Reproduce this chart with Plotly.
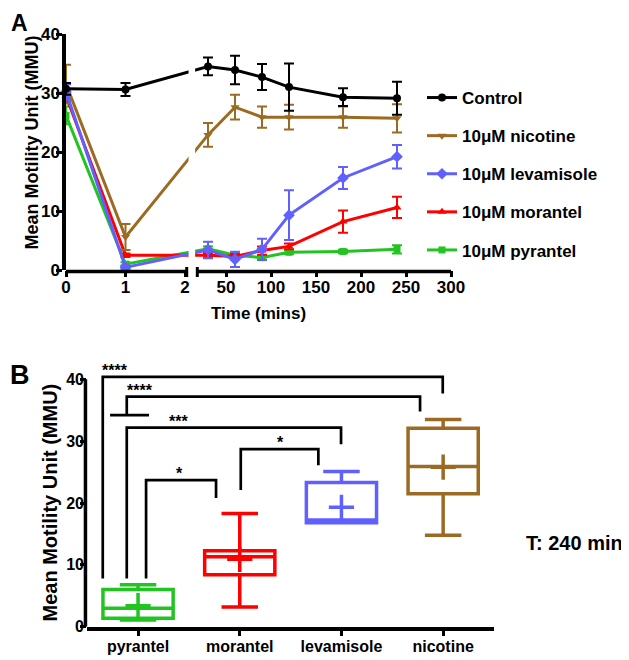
import plotly.graph_objects as go

W, H = 629, 660
PAGE_OFF = 8  # default page body margin
FW, FH = W - PAGE_OFF, H - PAGE_OFF
FONT = "Liberation Sans"

# ---------------- Panel A data ----------------
times = [0, 1, 30, 60, 90, 120, 180, 240]
control = [30.7, 30.6, 34.5, 33.9, 32.7, 31.0, 29.3, 29.1]
control_err = [1.0, 1.1, 1.5, 2.4, 2.2, 4.0, 1.5, 2.8]
nicotine = [31.5, 5.6, 22.9, 27.6, 25.9, 25.9, 25.9, 25.7]
nicotine_err = [3.3, 2.2, 2.0, 2.1, 1.8, 2.1, 1.8, 2.4]
levamisole = [30.2, 0.45, 3.4, 1.8, 3.5, 9.3, 15.6, 19.2]
levamisole_err = [1.3, 0.3, 1.4, 1.3, 1.8, 4.2, 1.85, 2.0]
morantel = [29.5, 2.5, 2.5, 2.3, 3.3, 4.0, 8.2, 10.6]
morantel_err = [1.0, 0.3, 0.4, 0.4, 0.7, 0.5, 1.9, 1.8]
pyrantel = [26.2, 1.0, 3.6, 2.5, 2.1, 3.0, 3.15, 3.5]
pyrantel_err = [1.5, 0.3, 0.4, 0.3, 0.3, 0.3, 0.3, 0.7]

series_names = ["Control", "10\u03bcM nicotine", "10\u03bcM levamisole",
                "10\u03bcM morantel", "10\u03bcM pyrantel"]
x_ticks_seg1 = [0, 1, 2]
x_ticks_seg2 = [50, 100, 150, 200, 250, 300]
y_ticks = [0, 10, 20, 30, 40]

# ---------------- Panel B data ----------------
drugs = ["pyrantel", "morantel", "levamisole", "nicotine"]
q1 = [1.35, 8.4, 16.8, 21.5]
median = [3.0, 11.3, 17.25, 25.9]
q3 = [6.0, 12.3, 23.3, 32.1]
lower = [1.1, 3.2, 16.8, 14.8]
upper = [6.8, 18.3, 25.1, 33.5]
means = [3.4, 10.9, 19.3, 25.8]

# significance brackets: (x_left, y_left_bottom, y_top, x_right, y_right_bottom, label, label_x)
brackets = [
    (-0.347, 7.8, 40.4, 2.996, 37.7, "****", -0.226),
    (-0.111, 34.2, 37.2, 2.773, 34.8, "****", 0.02),
    (-0.111, 7.8, 32.2, 1.996, 29.5, "***", 0.40),
    (0.079, 7.8, 23.7, 0.767, 20.8, "*", 0.41),
    (1.010, 22.1, 28.7, 1.773, 26.1, "*", 1.40),
]
extra_tick = (-0.275, 0.108, 34.2)

# ---------------- styling ----------------
C_BLACK = "#000000"
C_BROWN = "#9B6B24"
C_BLUE = "#6060FF"
C_RED = "#FF0000"
C_GREEN = "#22C422"


def px_x(px):
    return (px - PAGE_OFF) / FW


def px_y(py):
    return 1 - (py - PAGE_OFF) / FH


# broken x axis: segment 1 (0-2) and segment 2 (minutes)
SEG1_PX = 59.5
SEG2_OFFSET = 1.933
SEG2_SCALE = 0.9 / SEG1_PX


def tx(t):
    return t if t <= 2 else SEG2_OFFSET + t * SEG2_SCALE


X_END = tx(300)

A_LEFT, A_RIGHT, A_TOP, A_BOT = 66, 451, 34, 270
B_LEFT, B_RIGHT, B_TOP, B_BOT = 87.2, 494, 354.6, 626.7

fig = go.Figure()

trace_specs = [
    (pyrantel, pyrantel_err, C_GREEN, "square", 7, 4),
    (morantel, morantel_err, C_RED, "triangle-up", 8, 3),
    (nicotine, nicotine_err, C_BROWN, "triangle-down", 8, 1),
    (levamisole, levamisole_err, C_BLUE, "diamond", 9, 2),
    (control, control_err, C_BLACK, "circle", 8, 0),
]
for vals, errs, col, sym, size, rank in trace_specs:
    fig.add_trace(go.Scatter(
        x=[tx(t) for t in times], y=vals,
        mode="lines+markers",
        name=series_names[rank],
        legendgroup=series_names[rank],
        legendrank=rank + 1,
        line=dict(color=col, width=3),
        marker=dict(symbol=sym, size=size, color=col),
        error_y=dict(type="data", array=errs, color=col, thickness=2, width=5),
        xaxis="x", yaxis="y",
        cliponaxis=False,
    ))

# Panel B boxes
box_colors = [C_GREEN, C_RED, C_BLUE, C_BROWN]
for i, d in enumerate(drugs):
    fig.add_trace(go.Box(
        x=[d], q1=[q1[i]], median=[median[i]], q3=[q3[i]],
        lowerfence=[lower[i]], upperfence=[upper[i]],
        boxpoints=False, line=dict(color=box_colors[i], width=3.5),
        fillcolor="rgba(0,0,0,0)", whiskerwidth=0.52, width=0.69,
        xaxis="x2", yaxis="y2", showlegend=False, hoverinfo="skip",
    ))
fig.add_trace(go.Scatter(
    x=drugs, y=means, mode="markers",
    marker=dict(symbol="cross-thin", size=18,
                line=dict(width=3.5, color=box_colors)),
    xaxis="x2", yaxis="y2", showlegend=False, hoverinfo="skip",
))

shapes = []
# white break band in panel A
shapes.append(dict(type="rect", xref="x", yref="paper", x0=2.06, x1=2.17,
                   y0=px_y(A_BOT - 1), y1=px_y(A_TOP), fillcolor="white",
                   line=dict(width=0), layer="above"))
# broken x axis line segments
ax_y = px_y(A_BOT + 1.6)
shapes.append(dict(type="line", xref="x", yref="paper", x0=0, x1=2.029,
                   y0=ax_y, y1=ax_y, line=dict(color="black", width=3.5)))
shapes.append(dict(type="line", xref="x", yref="paper", x0=2.207, x1=X_END,
                   y0=ax_y, y1=ax_y, line=dict(color="black", width=3.5)))
for xb in (2.029, 2.207):
    shapes.append(dict(type="line", xref="x", yref="paper", x0=xb, x1=xb,
                       y0=px_y(A_BOT - 3), y1=px_y(A_BOT + 7),
                       line=dict(color="black", width=3)))
# panel B y axis line (0-40)
shapes.append(dict(type="line", xref="paper", yref="y2",
                   x0=px_x(B_LEFT - 1.75), x1=px_x(B_LEFT - 1.75), y0=0, y1=40,
                   line=dict(color="black", width=3.5)))
# brackets
annotations = []
for xl, ylb, yt, xr, yrb, lab, lx in brackets:
    shapes.append(dict(type="path", xref="x2", yref="y2",
                       path=f"M {xl},{ylb} L {xl},{yt} L {xr},{yt} L {xr},{yrb}",
                       line=dict(color="black", width=2.7)))
    annotations.append(dict(x=lx, y=yt, xref="x2", yref="y2", text=lab,
                            showarrow=False, yanchor="bottom", yshift=-4,
                            font=dict(family=FONT, size=16, color="black",
                                      weight="bold")))
shapes.append(dict(type="line", xref="x2", yref="y2", x0=extra_tick[0],
                   x1=extra_tick[1], y0=extra_tick[2], y1=extra_tick[2],
                   line=dict(color="black", width=2.7)))


def text_ann(txt, x, y, size, angle=0):
    return dict(text=txt, x=px_x(x), y=px_y(y), xref="paper", yref="paper",
                showarrow=False, textangle=angle, xanchor="center",
                yanchor="middle",
                font=dict(family=FONT, size=size, color="black", weight="bold"))


annotations += [
    text_ann("A", 19, 23, 23),
    text_ann("B", 20, 375, 27),
    text_ann("Mean Motility Unit (MMU)", 31.5, 143, 18, -90),
    text_ann("Time (mins)", 258, 313, 17),
    text_ann("Mean Motility Unit (MMU)", 49.5, 503, 20, -90),
    text_ann("T: 240 min", 574, 543, 20),
]

tickfont_a = dict(family=FONT, size=17, color="black", weight="bold")
tickfont_b = dict(family=FONT, size=16, color="black", weight="bold")

fig.update_layout(
    template="none",
    width=FW, height=FH,
    margin=dict(l=0, r=0, t=0, b=0, autoexpand=False),
    paper_bgcolor="white", plot_bgcolor="white",
    boxmode="overlay",
    showlegend=True,
    legend=dict(x=px_x(422), y=px_y(80), xanchor="left", yanchor="top",
                font=dict(family=FONT, size=17, color="black", weight="bold"),
                tracegroupgap=13, itemwidth=30, bgcolor="rgba(0,0,0,0)"),
    xaxis=dict(domain=[px_x(A_LEFT), px_x(A_RIGHT)], range=[0, X_END],
               showgrid=False, zeroline=False, showline=False, automargin=False,
               tickmode="array",
               tickvals=[tx(t) for t in x_ticks_seg1] + [tx(t) for t in x_ticks_seg2],
               ticktext=[str(t) for t in x_ticks_seg1] + [str(t) for t in x_ticks_seg2],
               ticks="outside", ticklen=6, tickwidth=3, tickcolor="black",
               ticklabelstandoff=-4,
               tickfont=tickfont_a, anchor="y"),
    yaxis=dict(domain=[px_y(A_BOT), px_y(A_TOP)], range=[0, 40],
               showgrid=False, zeroline=False, showline=True, automargin=False,
               linecolor="black", linewidth=3.5,
               tickmode="array", tickvals=y_ticks,
               ticks="outside", ticklen=6, tickwidth=3, tickcolor="black",
               ticklabelstandoff=-7,
               tickfont=tickfont_a, anchor="x"),
    xaxis2=dict(domain=[px_x(B_LEFT), px_x(B_RIGHT)], range=[-0.5, 3.5],
                type="category", categoryorder="array", categoryarray=drugs,
                showgrid=False, zeroline=False, showline=True, automargin=False,
                linecolor="black", linewidth=3.5,
                ticks="outside", ticklen=6, tickwidth=3, tickcolor="black",
                ticklabelstandoff=-4,
                tickfont=tickfont_b, anchor="y2"),
    yaxis2=dict(domain=[px_y(B_BOT), px_y(B_TOP)], range=[0, 44],
                showgrid=False, zeroline=False, showline=False, automargin=False,
                tickmode="array", tickvals=y_ticks,
                ticks="outside", ticklen=6, tickwidth=3, tickcolor="black",
                ticklabelstandoff=-7,
                tickfont=tickfont_b, anchor="x2"),
    shapes=shapes,
    annotations=annotations,
)

fig.write_html("out.html")
